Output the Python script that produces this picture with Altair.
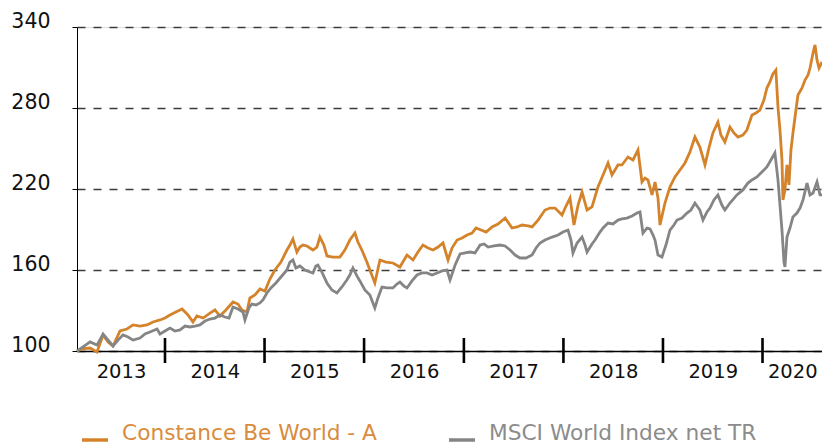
import altair as alt
import pandas as pd

# ---- data (time in decimal years, index level) ----
cbw_t = [2013.116, 2013.167, 2013.247, 2013.317, 2013.378, 2013.428, 2013.478, 2013.548, 2013.618, 2013.679,
         2013.749, 2013.819, 2013.880, 2013.950, 2014.000, 2014.050, 2014.110, 2014.171, 2014.231, 2014.281,
         2014.321, 2014.382, 2014.452, 2014.502, 2014.552, 2014.612, 2014.683, 2014.733, 2014.773, 2014.823,
         2014.853, 2014.904, 2014.954, 2015.004, 2015.054, 2015.104, 2015.165, 2015.225, 2015.255, 2015.285,
         2015.325, 2015.355, 2015.386, 2015.426, 2015.486, 2015.526, 2015.556, 2015.596, 2015.627, 2015.687,
         2015.757, 2015.807, 2015.857, 2015.908, 2015.938, 2015.978, 2016.028, 2016.058, 2016.108, 2016.159,
         2016.219, 2016.289, 2016.359, 2016.430, 2016.490, 2016.540, 2016.590, 2016.641, 2016.691, 2016.741,
         2016.791, 2016.841, 2016.881, 2016.932, 2016.982, 2017.032, 2017.082, 2017.122, 2017.173, 2017.223,
         2017.283, 2017.343, 2017.414, 2017.484, 2017.534, 2017.584, 2017.645, 2017.685, 2017.745, 2017.815,
         2017.865, 2017.916, 2017.986, 2018.026, 2018.066, 2018.106, 2018.147, 2018.187, 2018.237, 2018.287,
         2018.347, 2018.398, 2018.448, 2018.488, 2018.548, 2018.588, 2018.648, 2018.699, 2018.749, 2018.789,
         2018.819, 2018.849, 2018.890, 2018.920, 2018.950, 2018.970, 2019.020, 2019.070, 2019.120, 2019.171,
         2019.221, 2019.271, 2019.321, 2019.371, 2019.422, 2019.462, 2019.502, 2019.552, 2019.582, 2019.622,
         2019.673, 2019.713, 2019.753, 2019.803, 2019.843, 2019.894, 2019.934, 2019.974, 2020.014, 2020.044,
         2020.074, 2020.104, 2020.134, 2020.155, 2020.175, 2020.195, 2020.205, 2020.225, 2020.245, 2020.265,
         2020.285, 2020.305, 2020.335, 2020.355, 2020.396, 2020.426, 2020.456, 2020.476, 2020.506, 2020.526,
         2020.546, 2020.566, 2020.596]
cbw_v = [100.0, 101.5, 102.2, 99.3, 111.9, 106.7, 103.7, 114.8, 116.3, 119.3,
         118.5, 119.3, 121.5, 123.0, 124.4, 126.7, 128.9, 131.1, 126.7, 121.5,
         125.9, 124.4, 128.1, 130.4, 125.9, 130.4, 136.3, 134.8, 130.4, 128.9,
         139.3, 141.5, 145.9, 144.4, 153.3, 160.0, 165.9, 174.8, 178.5, 183.0,
         173.3, 177.0, 178.5, 177.8, 174.8, 177.0, 184.4, 178.5, 170.4, 169.6,
         169.6, 174.8, 182.2, 187.4, 180.7, 174.8, 165.9, 160.0, 150.4, 167.4,
         165.9, 165.2, 162.2, 171.1, 167.4, 173.3, 178.5, 176.3, 174.8, 177.0,
         180.0, 167.4, 176.3, 182.2, 183.7, 185.9, 187.4, 191.1, 189.6, 188.1,
         191.9, 194.1, 198.5, 191.1, 191.9, 193.3, 192.6, 191.9, 197.0, 204.4,
         205.9, 205.9, 200.7, 207.4, 213.3, 193.3, 208.1, 217.8, 204.4, 206.7,
         221.5, 230.4, 239.3, 230.4, 237.8, 237.8, 243.7, 241.5, 248.9, 225.2,
         228.1, 226.7, 215.6, 225.2, 213.3, 193.3, 209.6, 221.5, 228.9, 234.1,
         239.3, 247.4, 258.5, 251.1, 237.8, 250.4, 261.5, 269.6, 260.0, 254.8,
         265.9, 261.5, 258.5, 260.0, 263.7, 274.8, 276.3, 278.5, 285.9, 294.8,
         299.3, 305.2, 308.1, 280.7, 263.7, 241.5, 211.9, 219.3, 237.8, 223.0,
         248.9, 261.5, 278.5, 289.6, 294.8, 300.7, 304.4, 309.6, 320.7, 326.7,
         315.6, 309.6, 314.1]

msci_t = [2013.116, 2013.177, 2013.247, 2013.317, 2013.378, 2013.428, 2013.478, 2013.528, 2013.578, 2013.629,
          2013.679, 2013.749, 2013.799, 2013.849, 2013.920, 2013.950, 2014.000, 2014.050, 2014.100, 2014.151,
          2014.201, 2014.251, 2014.301, 2014.351, 2014.402, 2014.452, 2014.502, 2014.552, 2014.602, 2014.643,
          2014.683, 2014.733, 2014.783, 2014.803, 2014.843, 2014.873, 2014.914, 2014.954, 2014.984, 2015.024,
          2015.064, 2015.114, 2015.165, 2015.225, 2015.255, 2015.285, 2015.315, 2015.355, 2015.406, 2015.456,
          2015.486, 2015.516, 2015.536, 2015.576, 2015.627, 2015.677, 2015.727, 2015.777, 2015.827, 2015.857,
          2015.888, 2015.928, 2015.958, 2016.008, 2016.058, 2016.108, 2016.139, 2016.179, 2016.229, 2016.289,
          2016.329, 2016.359, 2016.400, 2016.430, 2016.480, 2016.530, 2016.580, 2016.631, 2016.681, 2016.731,
          2016.781, 2016.831, 2016.861, 2016.912, 2016.962, 2017.012, 2017.062, 2017.112, 2017.163, 2017.203,
          2017.243, 2017.303, 2017.363, 2017.414, 2017.464, 2017.514, 2017.564, 2017.624, 2017.685, 2017.725,
          2017.765, 2017.815, 2017.886, 2017.946, 2017.996, 2018.046, 2018.076, 2018.096, 2018.137, 2018.187,
          2018.217, 2018.237, 2018.287, 2018.317, 2018.367, 2018.398, 2018.448, 2018.498, 2018.548, 2018.588,
          2018.638, 2018.689, 2018.739, 2018.769, 2018.799, 2018.839, 2018.870, 2018.900, 2018.920, 2018.950,
          2018.990, 2019.030, 2019.070, 2019.110, 2019.141, 2019.191, 2019.241, 2019.281, 2019.321, 2019.371,
          2019.402, 2019.442, 2019.472, 2019.512, 2019.552, 2019.592, 2019.622, 2019.673, 2019.743, 2019.803,
          2019.853, 2019.894, 2019.944, 2019.994, 2020.044, 2020.084, 2020.124, 2020.155, 2020.175, 2020.195,
          2020.215, 2020.225, 2020.245, 2020.275, 2020.305, 2020.345, 2020.376, 2020.406, 2020.446, 2020.476,
          2020.506, 2020.546, 2020.576, 2020.596]
msci_v = [100.0, 103.0, 106.7, 104.4, 112.6, 108.1, 103.7, 108.1, 111.9, 110.4,
          108.1, 109.6, 112.6, 114.1, 116.3, 112.6, 114.8, 117.0, 114.8, 115.6,
          118.5, 117.8, 118.5, 119.3, 122.2, 123.7, 124.4, 126.7, 125.2, 124.4,
          132.6, 131.1, 128.9, 123.0, 131.9, 134.8, 134.1, 135.6, 137.8, 143.0,
          146.7, 150.4, 154.8, 160.0, 165.9, 167.4, 161.5, 163.0, 160.0, 158.5,
          157.8, 163.0, 163.7, 158.5, 150.4, 145.2, 143.0, 147.4, 152.6, 156.3,
          161.5, 155.6, 151.9, 145.2, 141.5, 131.9, 139.3, 147.4, 146.7, 146.7,
          149.6, 151.1, 148.1, 146.7, 151.9, 156.3, 157.8, 157.8, 156.3, 157.8,
          159.3, 160.0, 152.6, 163.7, 171.9, 172.6, 173.3, 172.6, 178.5, 179.3,
          177.0, 177.8, 178.5, 177.8, 174.8, 171.1, 168.9, 168.9, 171.1, 176.3,
          180.0, 182.2, 184.4, 185.9, 188.1, 189.6, 182.2, 172.6, 180.0, 184.4,
          178.5, 173.3, 179.3, 182.2, 188.1, 191.1, 194.8, 194.1, 197.0, 197.8,
          198.5, 200.0, 202.2, 203.0, 187.4, 191.1, 190.4, 185.9, 182.2, 171.1,
          169.6, 178.5, 189.6, 193.3, 197.0, 198.5, 202.2, 204.4, 209.6, 204.4,
          197.0, 203.0, 205.9, 211.9, 215.6, 208.1, 204.4, 209.6, 215.6, 219.3,
          224.4, 226.7, 228.9, 232.6, 236.3, 241.5, 246.7, 226.7, 208.1, 189.6,
          165.9, 162.2, 184.4, 191.1, 199.3, 202.2, 205.9, 211.9, 224.4, 215.6,
          217.0, 225.2, 215.6, 215.6]

series_names = ["Constance Be World - A", "MSCI World Index net TR"]
series_colors = ["#D4832B", "#858585"]
label_colors = ["#D98C3D", "#8C8C8C"]
y_ticks = [100, 160, 220, 280, 340]
year_labels = [2013, 2014, 2015, 2016, 2017, 2018, 2019, 2020]
year_boundaries = [2014, 2015, 2016, 2017, 2018, 2019, 2020]


def to_date(t):
    y = int(t)
    a = pd.Timestamp(year=y, month=1, day=1)
    b = pd.Timestamp(year=y + 1, month=1, day=1)
    return a + (b - a) * (t - y)


cbw = pd.DataFrame({"date": [to_date(t) for t in cbw_t], "value": cbw_v, "series": series_names[0]})
msci = pd.DataFrame({"date": [to_date(t) for t in msci_t], "value": msci_v, "series": series_names[1]})
start = to_date(cbw_t[0])
end = to_date(cbw_t[-1])

# label positions: middle of the visible part of each calendar year
label_dates = []
for y in year_labels:
    a = max(start, pd.Timestamp(year=y, month=1, day=1))
    b = min(end, pd.Timestamp(year=y + 1, month=1, day=1))
    m = a + (b - a) / 2
    label_dates.append(alt.DateTime(year=m.year, month=m.month, date=m.day, hours=m.hour))

bounds = pd.DataFrame({"date": [pd.Timestamp(year=y, month=1, day=1) for y in year_boundaries]})

FONT = "DejaVu Sans"

x_scale = alt.Scale(domain=[start.isoformat(), end.isoformat()], nice=False)
y_scale = alt.Scale(domain=[100, 340], nice=False, zero=False)

x_axis = alt.Axis(values=label_dates, format="%Y", title=None, ticks=False, tickSize=0,
                  labelPadding=11, labelFontSize=19.5, labelFont=FONT, labelColor="#111111",
                  domainColor="#000000", domainWidth=1.3, grid=False, labelFlush=False,
                  labelOverlap=False, labelBaseline="top")
y_axis = alt.Axis(values=y_ticks, title=None, tickSize=5, tickColor="#000000", tickWidth=1,
                  labelPadding=22, labelFontSize=20.5, labelFont=FONT, labelColor="#111111",
                  labelBaseline="alphabetic", domainColor="#000000", domainWidth=1,
                  grid=True, gridDash=[8, 8], gridColor="#3c3c3c", gridWidth=1.3)

legend = alt.Legend(title=None, orient="none", legendX=3, legendY=398, direction="horizontal",
                    symbolType="stroke", symbolSize=676, symbolStrokeWidth=3.5,
                    labelFontSize=21.7, labelFont=FONT, labelOffset=12, columnPadding=65,
                    labelBaseline="alphabetic", labelLimit=0, padding=0,
                    labelColor={"expr": "datum.label == '%s' ? '%s' : '%s'" % (series_names[0], label_colors[0], label_colors[1])})

color = alt.Color("series:N", scale=alt.Scale(domain=series_names, range=series_colors), legend=legend)

line_cbw = alt.Chart(cbw).mark_line(strokeWidth=2.8).encode(
    x=alt.X("date:T", scale=x_scale, axis=x_axis),
    y=alt.Y("value:Q", scale=y_scale, axis=y_axis),
    color=color,
)
line_msci = alt.Chart(msci).mark_line(strokeWidth=2.8).encode(
    x=alt.X("date:T", scale=x_scale),
    y=alt.Y("value:Q", scale=y_scale),
    color=color,
)
ticks = alt.Chart(bounds).mark_rule(color="#000000", strokeWidth=2.6).encode(
    x=alt.X("date:T", scale=x_scale),
    y=alt.value(311),
    y2=alt.value(336),
)

chart = alt.layer(line_cbw, line_msci, ticks).properties(
    width=745, height=324,
    autosize=alt.AutoSizeParams(type="none"),
    padding={"left": 69, "top": 19, "right": 0, "bottom": 105},
).configure_view(stroke=None).configure(background="white")

chart.save("out.html", embed_options={"renderer": "svg", "actions": False})
